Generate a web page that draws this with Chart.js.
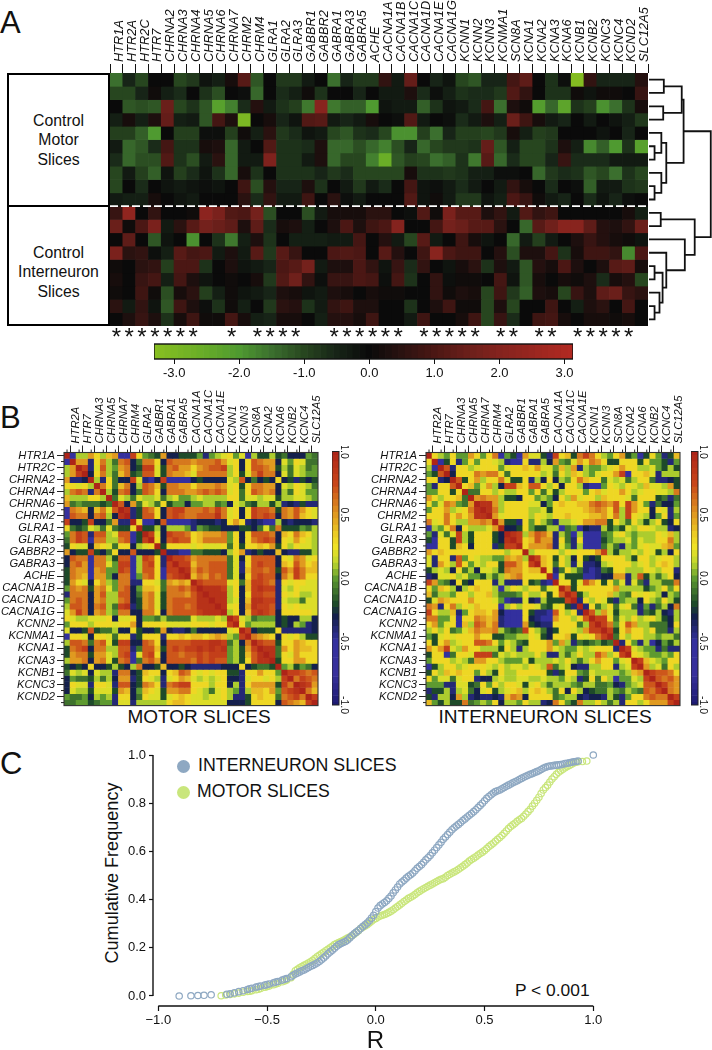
<!DOCTYPE html>
<html>
<head>
<meta charset="utf-8">
<title>Gene expression and correlation in motor and interneuron slices</title>
<script src="https://cdn.jsdelivr.net/npm/chart.js@4"></script>
<style>
  html, body { margin: 0; padding: 0; background: #fff; }
  body { position: relative; width: 712px; height: 1050px; overflow: hidden; font-family: "Liberation Sans", Arial, sans-serif; color: #111; }
  canvas { position: absolute; }
  .t { position: absolute; white-space: nowrap; line-height: 1; }
  .letter { font-size: 31px; left: 0; }
  .group { position: absolute; left: 7px; width: 103px; box-sizing: border-box; border: 2px solid #000; background: #fff; }
  .group span { position: absolute; left: 0; right: 0; text-align: center; font-size: 15.8px; line-height: 19.3px; }
  .dot { position: absolute; width: 13px; height: 13px; border-radius: 50%; left: 177px; }
</style>
</head>
<body>
<div class="t letter" style="top:7px">A</div>
<div class="t letter" style="top:402px">B</div>
<div class="t letter" style="top:748px">C</div>

<div class="group" style="top:73px;height:134px"><span style="top:36px">Control<br>Motor<br>Slices</span></div>
<div class="group" style="top:205px;height:121px"><span style="top:36px">Control<br>Interneuron<br>Slices</span></div>

<div class="t" style="left:199px;top:707px;font-size:19px;transform:translateX(-50%)">MOTOR SLICES</div>
<div class="t" style="left:545px;top:707px;font-size:19.1px;transform:translateX(-50%)">INTERNEURON SLICES</div>

<div class="dot" style="top:760px;background:#8ea8c2"></div>
<div class="t" style="left:198px;top:757px;font-size:17.8px">INTERNEURON SLICES</div>
<div class="dot" style="top:786px;background:#c9e67c"></div>
<div class="t" style="left:197px;top:783px;font-size:17.6px">MOTOR SLICES</div>
<div class="t" style="left:515px;top:982px;font-size:17.4px">P &lt; 0.001</div>
<div class="t" style="left:112px;top:873px;font-size:18.1px;transform:translate(-50%,-50%) rotate(-90deg)">Cumulative Frequency</div>

<script>
// ---- gene names ----
const genes = ["HTR1A","HTR2A","HTR2C","HTR7","CHRNA2","CHRNA3","CHRNA4","CHRNA5","CHRNA6","CHRNA7","CHRM2","CHRM4","GLRA1","GLRA2","GLRA3","GABBR1","GABBR2","GABRA1","GABRA3","GABRA5","ACHE","CACNA1A","CACNA1B","CACNA1C","CACNA1D","CACNA1E","CACNA1G","KCNN1","KCNN2","KCNN3","KCNMA1","SCN8A","KCNA1","KCNA2","KCNA3","KCNA6","KCNB1","KCNB2","KCNC3","KCNC4","KCND2","SLC12A5"];

// columns with a significance star under panel A
const starCols = [0,1,2,3,4,5,6,9,11,12,13,14,17,18,19,20,21,22,24,25,26,27,28,30,31,33,34,36,37,38,39,40];

// ---- panel A, expression z-score x10, one row per slice ----
const heatRows = [
[-15,-5,-10,0,0,-10,-8,-2,-4,2,12,-12,0,-8,-8,-3,0,-15,-5,-8,-8,6,-3,14,0,-5,-2,-10,-12,-5,-5,9,13,0,-7,-1,-32,6,-5,-5,-5,4],
[-10,-10,-5,1,-4,-6,0,-7,-11,0,-1,-14,0,-6,-4,1,-7,0,0,-5,0,-3,-3,3,-6,-1,-4,-7,-6,-6,-8,11,6,0,-7,-7,1,-2,1,1,0,7],
[0,-12,-11,-12,15,-10,-7,-12,-22,-17,-6,4,-3,-7,-9,-16,21,-16,-13,-13,-20,-2,-3,-3,-13,-7,-2,-3,-6,9,-15,3,1,-21,-14,-23,-7,-9,-19,-15,-7,2],
[-4,2,-4,3,14,-4,-3,-12,9,3,-30,0,2,-5,-2,11,12,-3,-5,-3,2,0,-1,11,-3,0,-1,-6,-3,3,-4,15,8,2,-3,-5,0,-3,0,-2,-4,-8],
[-9,-9,-13,-20,0,-9,-9,-1,-1,-9,1,-4,5,-8,-6,-2,-3,-10,-12,-7,-6,-10,-19,-19,-9,-15,-5,-9,-9,-10,-8,2,-4,-9,-8,0,0,0,-2,0,-5,0],
[-3,-14,-12,-6,9,-7,-7,2,3,-14,-3,0,11,-7,-7,-6,3,-14,-14,-11,-14,-17,-11,-5,-14,-10,-8,-8,-7,14,-12,-4,-10,-10,-7,3,-4,-18,-13,-20,-7,-22],
[-6,-14,-11,-11,11,-7,-11,-3,5,-14,-3,-3,19,-7,-7,-3,3,-14,-10,-10,-17,-26,-12,-9,-10,-15,-13,-7,-16,12,-14,-6,-10,-10,-5,7,-6,-6,-6,-3,-3,-3],
[-10,-3,-9,-13,-2,-9,-6,-2,-7,-14,2,-7,0,-7,-7,-7,-5,-8,-6,-10,-10,-10,-10,2,-7,-7,-8,-7,-4,-4,-1,-1,0,-14,-8,-6,-7,-12,-10,-15,-7,-10],
[-10,0,-6,0,-2,-3,-2,-1,-2,0,8,-11,4,-5,-5,3,-7,0,-3,-8,-3,-6,0,9,-2,-1,-3,-6,-3,0,-3,6,2,0,-6,0,-1,-13,-3,-3,-7,-8],
[-3,-4,-4,2,0,-2,-3,0,0,0,5,-6,6,-3,-3,8,0,5,-1,-3,0,0,0,11,-2,1,-3,-8,-8,-2,-4,10,7,1,-3,-5,0,-6,-2,-5,-1,0],
[7,23,0,6,0,0,1,22,18,11,10,17,-11,0,0,-11,-3,2,2,2,5,5,0,-1,11,1,18,12,12,3,6,-3,11,6,8,0,0,0,0,0,2,-4],
[15,1,10,18,-3,5,12,17,15,13,3,13,-6,2,3,-4,0,3,10,3,8,10,20,0,0,9,17,15,12,12,5,0,-14,12,16,21,21,13,4,3,6,15],
[0,13,0,-12,-2,0,-19,0,-7,-16,-4,3,-7,0,-4,-4,-4,-3,-3,9,0,4,-3,-10,12,-3,0,8,2,-2,0,-14,-3,-9,-3,0,3,7,4,2,1,-2],
[18,5,6,-1,-4,12,9,10,-3,3,-3,12,-8,12,7,0,0,10,11,10,0,12,4,0,8,21,10,8,8,0,4,-11,3,3,9,-7,2,8,8,6,-18,10],
[1,0,5,6,-9,10,10,-7,0,3,-2,-3,-5,10,12,17,-3,3,3,10,6,-2,7,-6,6,0,-2,2,5,-7,3,-3,-12,4,2,10,3,0,3,12,13,2],
[2,0,7,9,-4,9,3,-2,0,1,0,2,-8,11,16,6,-1,7,7,10,9,-1,9,-7,0,6,-1,1,1,0,9,-2,-12,2,0,2,1,3,-6,2,4,-10],
[1,0,8,1,-11,2,5,-9,-4,1,-2,-3,-5,3,2,-2,-3,3,2,0,2,1,1,0,0,6,1,3,2,-10,8,-8,-13,3,2,-10,7,3,13,15,7,5],
[5,-3,6,-2,-12,8,3,-1,-7,1,-4,0,-8,5,4,-7,-3,6,8,3,3,0,0,-7,0,3,8,1,1,-10,3,-10,0,0,8,0,-4,3,5,0,9,0],
[0,3,7,3,-7,2,8,1,1,9,2,-4,-5,2,2,0,-4,4,4,2,8,0,0,-3,8,0,0,2,8,-10,7,-6,0,8,9,2,0,2,2,1,2,0]
];

// dendrogram of the 19 slices, hclust style: negative = row number, positive = earlier merge, then height
const dendroMerges = [
[-1,-2,0.24],[-3,-4,0.23],[1,2,0.53],[-6,-7,0.09],[-5,4,0.2],[-9,-10,0.09],[-8,6,0.2],[5,7,0.28],[3,8,0.56],
[-11,-12,0.19],[-15,-16,0.09],[-18,-19,0.09],[-17,12,0.17],[11,13,0.22],[-14,14,0.28],[-13,15,0.58],[10,16,0.74],[9,17,1]
];

// ---- panel B, correlation x10, upper triangle from the diagonal rightwards ----
const motorRows = [
[10,-6,1,1,5,3,1,4,5,-6,-6,8,3,0,-1,-2,5,-3,-3,-2,-2,-2,0,-4,0,1,2,3,0,2,-5,1,-2,-2,1,-2,-1,-3,-3,-3,0,-1],
[10,5,5,-4,3,6,1,-1,6,7,-3,-1,6,6,3,-3,7,6,6,6,5,6,6,6,7,5,2,3,-3,3,7,6,5,5,-3,2,0,3,2,-1,-1],
[10,8,-4,2,7,1,0,5,6,-3,-2,8,8,2,-2,6,7,5,5,3,5,6,7,7,8,1,3,-3,3,7,7,6,5,-2,1,-1,2,1,-1,0],
[10,-3,3,6,1,-1,4,6,-2,-1,7,7,2,-2,6,5,5,4,2,6,6,6,6,6,1,3,-2,2,6,8,6,6,-3,2,-1,2,1,0,0],
[10,1,-4,3,-1,-3,-3,8,2,-4,-5,-3,8,-5,-5,-5,-5,-3,-2,-3,-3,-3,-3,2,1,7,-3,-1,-3,-2,-3,3,-3,-2,-4,-2,-3,-2],
[10,6,3,-1,4,6,-3,1,7,6,4,-2,6,6,5,5,3,5,5,5,6,5,2,3,-2,3,6,6,5,5,-3,2,1,3,2,1,-1],
[10,1,-2,6,7,-3,-1,7,6,3,-3,6,6,6,5,5,6,7,6,7,6,2,3,-1,3,7,6,5,6,-3,1,-1,3,2,0,0],
[10,-1,2,1,-1,2,1,1,2,-1,1,2,0,0,1,2,1,1,1,1,3,3,-1,2,2,1,2,2,-2,1,1,2,2,1,0],
[10,7,-3,5,-1,2,1,-1,3,-2,0,0,-3,0,0,1,1,-1,0,-3,2,1,-1,-2,1,1,-2,1,-4,-3,-4,-2,-4,-4],
[10,9,-4,-2,7,6,3,-3,7,8,8,6,6,6,7,6,8,6,2,3,-3,3,8,7,7,6,-2,6,5,7,5,3,2],
[10,-4,-2,7,7,3,-3,7,8,7,6,6,7,7,7,9,6,2,3,-3,3,8,7,8,7,-3,6,5,7,4,3,2],
[10,3,-5,-5,-3,7,-5,-5,-5,-5,-4,-3,-3,-3,-4,-3,3,5,3,-4,-3,-4,-5,-5,1,-3,-4,-3,-3,-3,-4],
[10,-2,-2,1,-3,1,1,1,0,-4,0,-1,-2,-2,-3,-3,-3,-2,-2,-3,-1,2,-1,6,-2,-2,-2,0,-1,1],
[10,8,2,-3,8,7,7,6,3,4,5,5,5,6,0,3,-3,3,7,7,7,6,-3,4,3,6,4,3,1],
[10,3,-3,7,8,7,7,3,4,6,6,6,6,0,3,-3,3,6,7,8,7,-3,3,2,5,3,2,1],
[10,-2,3,3,3,3,2,3,2,2,2,3,-1,3,-2,3,3,4,3,5,-2,3,1,3,2,2,1],
[10,-4,-4,-5,-5,-1,-1,-2,-2,-2,-3,1,3,5,-4,-3,-2,-3,-3,4,-3,-4,-4,-2,-2,1],
[10,8,8,7,5,6,6,6,6,6,-1,2,-3,3,7,7,7,7,-3,3,2,6,5,2,3],
[10,8,8,4,6,6,7,7,7,-1,2,-4,3,7,8,7,7,-3,4,3,7,5,3,4],
[10,9,5,7,6,7,7,7,-1,2,-4,4,7,7,6,7,-2,7,5,8,6,4,4],
[10,4,6,5,7,6,7,-1,2,-3,3,7,8,7,7,-3,6,4,8,6,3,3],
[10,8,7,7,7,7,2,3,-1,4,8,8,7,6,-4,3,2,3,3,2,2],
[10,9,9,9,8,1,3,-3,4,8,9,8,8,-4,2,1,3,2,2,2],
[10,9,9,9,1,3,-3,3,8,8,7,7,-4,3,2,3,1,1,2],
[10,9,9,1,2,-3,4,9,9,8,8,-4,2,1,1,-1,2,2],
[10,9,2,3,-3,5,9,8,8,7,-4,3,2,3,2,2,2],
[10,1,3,-3,4,8,9,8,7,-3,3,3,3,3,3,2],
[10,8,2,1,-1,0,0,0,-3,-2,-3,-3,1,1,-3],
[10,3,0,1,1,1,1,-3,-2,-3,1,0,-4,-3],
[10,8,-3,-2,-2,-2,3,-4,-4,-4,-4,-4,-3],
[10,6,5,4,3,-3,3,2,3,1,-2,-2],
[10,8,7,7,-2,3,3,5,4,3,3],
[10,9,9,-1,5,3,5,4,4,3],
[10,9,-1,3,2,5,3,3,3],
[10,-2,3,3,5,5,3,3],
[10,0,1,-2,0,-1,-3],
[10,8,8,7,6,7],
[10,6,8,7,6],
[10,9,8,5],
[10,6,4],
[10,8],
[10]
];
const interRows = [
[10,3,1,0,3,0,0,5,3,0,3,6,-5,0,-2,-5,5,2,2,-2,-4,8,3,4,-2,6,8,6,3,1,0,3,5,-2,0,-5,-2,3,0,-4,-2,4],
[10,-5,-2,3,-4,0,3,0,3,3,2,1,-4,-5,-5,3,-4,-4,1,-3,5,0,-1,2,5,3,6,5,3,-2,-2,3,3,3,-2,3,0,0,-2,-4,0],
[10,7,-4,3,3,1,2,3,3,3,0,2,3,3,4,3,5,2,2,0,4,1,5,-4,1,0,0,1,2,3,5,3,3,1,1,2,0,-2,1,-2],
[10,-3,3,3,3,6,5,6,6,3,-1,3,3,3,3,3,1,2,-1,3,1,4,3,1,0,2,3,3,5,8,-5,3,3,4,2,-4,1,1,1],
[10,7,-2,3,5,1,3,3,6,2,-2,-2,3,-4,1,-3,3,-3,1,0,3,6,4,3,3,-1,2,1,2,-1,1,3,3,-1,-4,-4,-3,-2],
[10,3,4,0,2,5,1,-3,8,8,4,3,7,7,3,1,3,-3,3,3,1,-4,-5,-5,0,3,2,1,3,2,1,4,2,2,1,5,-2],
[10,-1,-1,3,3,1,3,1,1,3,3,0,3,-1,2,-2,1,3,3,3,0,3,4,2,3,3,5,3,1,2,3,3,2,2,1,6],
[10,5,6,5,5,1,-2,-2,-3,3,3,0,1,0,-3,3,1,5,2,3,3,1,4,3,3,3,2,-1,3,3,3,-2,-1,-4,-1],
[10,9,9,5,1,3,3,3,3,2,2,-3,0,3,4,3,3,4,4,6,7,6,5,7,3,8,5,3,0,-4,-1,-3,-3,0],
[10,9,6,1,3,3,3,3,1,1,2,-2,3,3,3,3,3,4,5,6,5,3,7,1,8,5,3,3,-3,3,2,-4,1],
[10,5,2,3,3,3,3,1,3,2,1,3,3,4,3,3,3,4,4,5,3,6,1,8,3,2,1,-3,0,3,-4,0],
[10,5,-2,-2,-4,3,0,3,1,-1,-4,1,1,2,3,5,5,6,6,-2,3,1,-1,3,1,-2,1,3,-2,-3,3],
[10,-3,-3,-2,3,0,-2,-2,1,1,-5,-1,0,-5,-3,-4,-4,1,-2,0,-2,2,1,3,3,2,1,1,-4,-3],
[10,9,8,1,5,7,6,4,-4,1,-1,-5,1,-5,-5,-5,-1,0,2,3,1,0,1,1,1,3,2,4,1],
[10,8,3,4,7,5,5,-4,3,-1,-4,3,-5,-5,-5,-2,0,1,1,2,0,2,1,1,3,3,6,1],
[10,3,5,5,5,6,-4,2,0,-4,1,-5,-5,-5,-1,1,-1,-4,1,0,2,3,2,2,4,5,0],
[10,1,3,3,3,3,1,3,2,3,3,3,5,8,1,-2,1,1,2,1,3,2,-2,1,-3,3],
[10,8,4,3,-2,3,1,-3,3,-2,-3,-2,3,3,3,3,1,-2,3,3,1,2,3,3,1],
[10,4,3,-1,3,1,-4,2,-4,-4,-3,1,2,3,3,3,1,2,3,1,3,4,3,1],
[10,3,-4,-1,3,1,-1,-4,-5,-4,-1,-2,3,3,1,1,1,3,2,1,3,3,-4],
[10,-5,2,-2,-2,-2,-5,-5,-4,-3,-3,5,5,-4,1,7,-2,1,-1,1,3,-3],
[10,3,3,-2,2,7,5,3,-2,3,0,2,-4,2,-1,-4,1,1,-1,-1,6],
[10,7,-2,3,3,3,3,3,3,5,1,1,1,1,-2,0,1,3,0,3],
[10,8,-2,1,3,3,3,4,1,0,-1,3,2,3,2,1,-3,1,0],
[10,-4,3,1,3,2,-2,-4,0,1,1,-3,3,1,0,3,1,-2],
[10,-4,3,-1,1,3,-1,2,3,-1,-4,0,-4,-1,1,-3,6],
[10,7,1,5,2,-2,1,1,1,-4,-1,-2,1,-3,-4,1],
[10,8,8,3,-1,2,1,3,1,2,3,1,-2,-3,1],
[10,8,6,0,3,7,5,1,1,-1,-1,-1,-3,3],
[10,8,-2,3,5,3,3,1,3,-1,-1,-4,1],
[10,-1,3,1,3,3,1,1,0,1,1,-1],
[10,-4,3,0,-4,1,-5,-3,0,-2,1],
[10,8,2,1,0,0,-4,-1,-4,-4],
[10,3,2,1,0,0,1,0,3],
[10,8,4,2,1,0,3,3],
[10,5,1,2,-1,3,1],
[10,8,7,7,6,3],
[10,7,6,7,5],
[10,8,6,5],
[10,6,5],
[10,8],
[10]
];

// ---- panel C, cumulative frequency of R ----
const interX = [-0.904,-0.85,-0.818,-0.79,-0.757,-0.685,-0.67,-0.65,-0.63,-0.61,-0.59,-0.57,-0.55,-0.53,-0.51,-0.49,-0.47,-0.45,-0.43,-0.41,-0.39,-0.37,-0.35,-0.33,-0.31,-0.29,-0.27,-0.25,-0.23,-0.21,-0.19,-0.17,-0.15,-0.13,-0.11,-0.09,-0.07,-0.05,-0.03,-0.01,0.01,0.03,0.05,0.07,0.09,0.11,0.13,0.15,0.17,0.19,0.21,0.23,0.25,0.27,0.29,0.31,0.33,0.35,0.37,0.39,0.41,0.43,0.45,0.47,0.49,0.51,0.53,0.55,0.57,0.59,0.61,0.63,0.65,0.67,0.69,0.71,0.73,0.75,0.77,0.79,0.81,0.83,0.85,0.87,0.89,0.91,0.93,1.0];
const interY = [0,0.001,0.002,0.003,0.005,0.007,0.009,0.013,0.018,0.022,0.027,0.032,0.037,0.041,0.045,0.05,0.055,0.06,0.066,0.072,0.08,0.091,0.1,0.108,0.118,0.127,0.137,0.15,0.166,0.183,0.198,0.213,0.222,0.232,0.25,0.265,0.28,0.295,0.312,0.335,0.365,0.382,0.395,0.415,0.44,0.465,0.48,0.497,0.51,0.53,0.545,0.565,0.583,0.605,0.627,0.65,0.67,0.69,0.705,0.72,0.735,0.75,0.765,0.782,0.8,0.82,0.835,0.848,0.855,0.865,0.875,0.885,0.893,0.903,0.912,0.92,0.927,0.935,0.945,0.952,0.955,0.958,0.96,0.965,0.968,0.972,0.975,1.0];
const interX2 = [-0.58,-0.54,-0.5,-0.46,-0.42,-0.38,-0.36,-0.34,-0.32,-0.3,-0.28,-0.26,-0.24,-0.22,-0.2,-0.18,-0.16,-0.14,-0.12,-0.1,-0.08,-0.06,-0.04,-0.02,0,0.02,0.04,0.06,0.08,0.1,0.12,0.14,0.16,0.18,0.2,0.22,0.24,0.26,0.28,0.3,0.32,0.34,0.36,0.38,0.4,0.42,0.44,0.46,0.48,0.5,0.52,0.54,0.56,0.58,0.6,0.62,0.64,0.66,0.68,0.7,0.72,0.74,0.76,0.78,0.8,0.82,0.84,0.86,0.88,0.9,0.92];
const interY2 = [0.03,0.039,0.048,0.058,0.069,0.086,0.095,0.105,0.113,0.123,0.132,0.143,0.158,0.175,0.19,0.206,0.218,0.226,0.241,0.258,0.272,0.288,0.303,0.323,0.35,0.375,0.388,0.405,0.428,0.452,0.473,0.489,0.503,0.52,0.537,0.555,0.574,0.594,0.616,0.638,0.66,0.68,0.698,0.712,0.728,0.743,0.757,0.773,0.791,0.81,0.828,0.842,0.852,0.86,0.87,0.88,0.889,0.898,0.908,0.916,0.923,0.931,0.94,0.949,0.954,0.957,0.959,0.962,0.966,0.97,0.973];
const motorX = [-0.711,-0.69,-0.67,-0.65,-0.63,-0.61,-0.59,-0.57,-0.55,-0.53,-0.51,-0.49,-0.47,-0.45,-0.43,-0.41,-0.39,-0.37,-0.35,-0.33,-0.31,-0.29,-0.27,-0.25,-0.23,-0.21,-0.19,-0.17,-0.15,-0.13,-0.11,-0.09,-0.07,-0.05,-0.03,-0.01,0.01,0.03,0.05,0.07,0.09,0.11,0.13,0.15,0.17,0.19,0.21,0.23,0.25,0.27,0.29,0.31,0.33,0.35,0.37,0.39,0.41,0.43,0.45,0.47,0.49,0.51,0.53,0.55,0.57,0.59,0.61,0.63,0.65,0.67,0.69,0.71,0.73,0.75,0.77,0.79,0.81,0.83,0.85,0.87,0.89,0.91,0.93,0.95,0.97];
const motorY = [0.001,0.004,0.006,0.009,0.012,0.016,0.019,0.022,0.026,0.031,0.036,0.042,0.047,0.053,0.059,0.066,0.076,0.105,0.117,0.127,0.137,0.148,0.163,0.175,0.188,0.2,0.213,0.222,0.23,0.24,0.25,0.263,0.28,0.29,0.303,0.317,0.328,0.335,0.342,0.352,0.365,0.378,0.392,0.405,0.415,0.428,0.44,0.45,0.46,0.47,0.48,0.487,0.5,0.51,0.52,0.532,0.545,0.56,0.572,0.585,0.597,0.612,0.627,0.642,0.658,0.675,0.695,0.71,0.725,0.737,0.755,0.775,0.8,0.825,0.855,0.875,0.9,0.92,0.935,0.947,0.957,0.967,0.972,0.973,0.975];
const motorX2 = [-0.58,-0.54,-0.5,-0.46,-0.42,-0.38,-0.36,-0.34,-0.32,-0.3,-0.28,-0.26,-0.24,-0.22,-0.2,-0.18,-0.16,-0.14,-0.12,-0.1,-0.08,-0.06,-0.04,-0.02,0,0.02,0.04,0.06,0.08,0.1,0.12,0.14,0.16,0.18,0.2,0.22,0.24,0.26,0.28,0.3,0.32,0.34,0.36,0.38,0.4,0.42,0.44,0.46,0.48,0.5,0.52,0.54,0.56,0.58,0.6,0.62,0.64,0.66,0.68,0.7,0.72,0.74,0.76,0.78,0.8,0.82,0.84,0.86,0.88,0.9,0.92];
const motorY2 = [0.02,0.028,0.039,0.05,0.062,0.09,0.111,0.122,0.132,0.142,0.155,0.169,0.181,0.194,0.206,0.218,0.226,0.235,0.245,0.256,0.271,0.285,0.296,0.31,0.322,0.332,0.338,0.347,0.358,0.371,0.385,0.398,0.41,0.421,0.434,0.445,0.455,0.465,0.475,0.484,0.493,0.505,0.515,0.526,0.538,0.552,0.566,0.578,0.591,0.604,0.62,0.634,0.65,0.666,0.685,0.703,0.717,0.731,0.746,0.765,0.788,0.812,0.84,0.865,0.888,0.91,0.928,0.941,0.952,0.962,0.97];

const heatTicks = [-3,-2,-1,0,1,2,3];
const corrTicks = [1,0.5,0,-0.5,-1];
const cumXTicks = [-1,-0.5,0,0.5,1];
const cumYTicks = [0,0.2,0.4,0.6,0.8,1];

// ---- colour scales ----
const heatStops = [[-3.3,"#88bf20"],[-2.5,"#66ab28"],[-2,"#4f9a30"],[-1.5,"#3b6f2e"],[-1,"#27461f"],[-0.5,"#172417"],[0,"#0a0a0a"],[0.5,"#2a1210"],[1,"#4b1714"],[1.5,"#6a1f1a"],[2,"#84231e"],[3.2,"#b52a22"]];
const corrStops = [[-1,"#1c1a70"],[-0.75,"#38309c"],[-0.5,"#33309e"],[-0.3,"#14204c"],[-0.2,"#1e4a2a"],[0,"#5e9a30"],[0.12,"#bcd62e"],[0.25,"#f0e224"],[0.35,"#eccb24"],[0.5,"#e09a20"],[0.75,"#c8461a"],[1,"#ad2418"]];

function hexRgb(h) { return [1,3,5].map(i => parseInt(h.slice(i,i+2),16)); }
function rampColor(stops, v) {
  if (v <= stops[0][0]) return stops[0][1];
  for (let i = 1; i < stops.length; i++) {
    if (v <= stops[i][0]) {
      const a = hexRgb(stops[i-1][1]), b = hexRgb(stops[i][1]);
      const t = (v - stops[i-1][0]) / (stops[i][0] - stops[i-1][0]);
      return `rgb(${a.map((c,k) => Math.round(c + (b[k]-c)*t)).join(",")})`;
    }
  }
  return stops[stops.length-1][1];
}

function mirror(tri) {
  return tri.map((_, i) => tri.map((_, j) => j >= i ? tri[i][j-i] : tri[j][i-j]));
}

// one stacked series per row, all bars one unit tall, colour carries the value
function cellDatasets(rows, colorOf) {
  return rows.map(row => ({
    data: row.map(() => 1),
    backgroundColor: row.map(colorOf),
    barPercentage: 1, categoryPercentage: 1, borderWidth: 0
  }));
}

// ---- page helpers ----
Chart.defaults.animation = false;
Chart.defaults.font.family = '"Liberation Sans", Arial, sans-serif';
Chart.defaults.color = "#111";
Chart.defaults.plugins.legend.display = false;
Chart.defaults.plugins.tooltip.enabled = false;

function addChart(x, y, w, h, config) {
  const c = document.createElement("canvas");
  c.width = w; c.height = h;
  c.style.left = x + "px"; c.style.top = y + "px";
  c.style.width = w + "px"; c.style.height = h + "px";
  document.body.appendChild(c);
  config.options.responsive = false;
  config.options.maintainAspectRatio = false;
  return new Chart(c, config);
}
function fixHeight(v) { return s => { s.height = v; s.paddingLeft = 0; s.paddingRight = 0; }; }
function fixWidth(v) { return s => { s.width = v; s.paddingTop = 0; s.paddingBottom = 0; }; }
function frame(color, width) {
  return { id: "frame", afterDraw(chart) {
    const a = chart.chartArea, g = chart.ctx;
    g.save(); g.strokeStyle = color; g.lineWidth = width;
    g.strokeRect(a.left, a.top, a.right - a.left, a.bottom - a.top);
    g.restore();
  } };
}

// ---- panel A heat map ----
addChart(100, 0, 558, 345, {
  type: "bar",
  data: { labels: genes, datasets: cellDatasets(heatRows, v => rampColor(heatStops, v / 10)) },
  options: {
    layout: { padding: { left: 10, right: 10 } },
    scales: {
      x: { position: "top", stacked: true, afterFit: fixHeight(73),
        grid: { drawOnChartArea: false, tickLength: 9, tickColor: "#111", tickWidth: 1 }, border: { display: false },
        ticks: { autoSkip: false, minRotation: 90, maxRotation: 90, padding: 2, labelOffset: 18.4, font: { size: 12.8, style: "italic" } } },
      stars: { type: "category", position: "bottom", afterFit: fixHeight(19), offset: true,
        grid: { display: false }, border: { display: false },
        ticks: { autoSkip: false, maxRotation: 0, padding: -10, font: { size: 24 },
          callback: (v, i) => starCols.includes(i) ? "*" : "" } },
      y: { display: false, stacked: true, reverse: true, min: 0, max: heatRows.length }
    }
  },
  plugins: [{ id: "split", afterDatasetsDraw(chart) {
    const g = chart.ctx, a = chart.chartArea, yp = chart.scales.y.getPixelForValue(10);
    g.save(); g.strokeStyle = "#fff"; g.lineWidth = 1.8; g.setLineDash([8, 3]);
    g.beginPath(); g.moveTo(a.left, yp); g.lineTo(a.right, yp); g.stroke(); g.restore();
  } }]
});

// dendrogram beside panel A
function buildDendro() {
  const nodes = [];
  const at = ref => ref < 0 ? { x: 0, y: -ref - 0.5 } : nodes[ref - 1];
  return dendroMerges.map(([a, b, h]) => {
    const p = at(a), q = at(b);
    nodes.push({ x: h, y: (p.y + q.y) / 2 });
    return { data: [{ x: p.x, y: p.y }, { x: h, y: p.y }, { x: h, y: q.y }, { x: q.x, y: q.y }],
      showLine: true, borderColor: "#111", borderWidth: 1.8, pointRadius: 0, tension: 0, clip: false };
  });
}
addChart(649, 73, 63, 253, {
  type: "scatter",
  data: { datasets: buildDendro() },
  options: { layout: { padding: 0 }, scales: {
    x: { type: "linear", display: false, min: 0, max: 1.02 },
    y: { type: "linear", display: false, min: 0, max: heatRows.length, reverse: true }
  } }
});

// panel A colour bar
const heatBarSteps = [];
for (let v = -3.3; v < 3.15; v += 0.1) heatBarSteps.push(+v.toFixed(1));
addChart(154, 343, 419, 37, {
  type: "bar",
  data: { datasets: [{ data: heatBarSteps.map(v => ({ x: v, y: 1 })), backgroundColor: heatBarSteps.map(v => rampColor(heatStops, v)),
    barPercentage: 1, categoryPercentage: 1, borderWidth: 0 }] },
  options: { layout: { padding: { top: 1 } }, scales: {
    x: { type: "linear", offset: false, min: -3.31, max: 3.13, afterFit: fixHeight(21), afterBuildTicks: s => { s.ticks = heatTicks.map(value => ({ value })); },
      grid: { offset: false, drawOnChartArea: false, tickLength: 5, tickColor: "#111" }, border: { display: false },
      ticks: { padding: 2, maxRotation: 0, autoSkip: false, font: { size: 13 }, callback: v => v.toFixed(1) } },
    y: { display: false, min: 0, max: 1 }
  } },
  plugins: [frame("#111", 1.4)]
});

// ---- panel B correlation matrices ----
function corrChart(left, axisWidth, rows) {
  const m = mirror(rows);
  addChart(left, 372, axisWidth + 262, 336, {
    type: "bar",
    data: { labels: genes, datasets: cellDatasets(m, v => rampColor(corrStops, v / 10)) },
    options: {
      layout: { padding: { bottom: 2.4, right: 8 } },
      scales: {
        x: { position: "top", stacked: true, afterFit: fixHeight(80.5),
          grid: { drawOnChartArea: false, tickLength: 7, tickColor: c => c.index % 2 ? "#222" : "transparent" }, border: { display: false },
          ticks: { autoSkip: false, minRotation: 90, maxRotation: 90, padding: 2, labelOffset: 15.8, font: { size: 11.2, style: "italic" },
            callback: (v, i) => i % 2 ? genes[i] : "" } },
        y: { stacked: true, reverse: true, min: 0, max: genes.length, afterFit: fixWidth(axisWidth),
          afterBuildTicks: s => { s.ticks = genes.map((g, i) => ({ value: i + 0.5 })); },
          grid: { drawOnChartArea: false, tickLength: 7, tickColor: c => c.index % 2 ? "transparent" : "#222" }, border: { display: false },
          ticks: { autoSkip: false, padding: 2, font: { size: 11.2, style: "italic" },
            callback: (v, i) => i % 2 ? "" : genes[i] } }
      }
    },
    plugins: [frame("#333", 1.1), { id: "minorTicks", afterDraw(chart) {
      const g = chart.ctx, a = chart.chartArea, sx = chart.scales.x, sy = chart.scales.y;
      g.save(); g.strokeStyle = "#222"; g.lineWidth = 1; g.beginPath();
      genes.forEach((name, i) => {
        if (i % 2 === 0) { const p = sx.getPixelForTick(i); g.moveTo(p, a.top); g.lineTo(p, a.top - 3); }
        else { const p = sy.getPixelForValue(i + 0.5); g.moveTo(a.left, p); g.lineTo(a.left - 3, p); }
      });
      g.stroke(); g.restore();
    } }]
  });
}
corrChart(0, 64, motorRows);
corrChart(355, 71, interRows);

// colour bars for panel B
const corrBarSteps = [];
for (let v = -1; v <= 1.001; v += 0.05) corrBarSteps.push(+v.toFixed(2));
function corrBar(left) {
  addChart(left, 446, 34, 268, {
    type: "bar",
    data: { datasets: [{ data: corrBarSteps.map(v => ({ x: 1, y: v })), backgroundColor: corrBarSteps.map(v => rampColor(corrStops, v)),
      barPercentage: 1, categoryPercentage: 1, borderWidth: 0 }] },
    options: { indexAxis: "y", layout: { padding: { top: 5.5, bottom: 9 } }, scales: {
      x: { type: "linear", display: false, min: 0, max: 1 },
      y: { type: "linear", offset: false, position: "right", min: -1, max: 1, afterFit: fixWidth(27),
        afterBuildTicks: s => { s.ticks = corrTicks.map(value => ({ value })); },
        grid: { display: false, offset: false }, border: { display: false },
        ticks: { autoSkip: false, minRotation: -90, maxRotation: -90, crossAlign: "center", padding: -12, font: { size: 10.5 }, callback: v => v.toFixed(1) } }
    } },
    plugins: [frame("#222", 1)]
  });
}
corrBar(332);
corrBar(691);

// ---- panel C cumulative frequency ----
const toPoints = (xs, ys) => xs.map((x, i) => ({ x, y: ys[i] }));
addChart(90, 740, 530, 310, {
  type: "scatter",
  data: { datasets: [
    { label: "INTERNEURON SLICES", data: toPoints(interX, interY).concat(toPoints(interX2, interY2)), borderColor: "#8ea8c2", backgroundColor: "transparent", pointRadius: 3.2, borderWidth: 1.2, clip: false },
    { label: "MOTOR SLICES", data: toPoints(motorX, motorY).concat(toPoints(motorX2, motorY2)), borderColor: "#c9e67c", backgroundColor: "transparent", pointRadius: 3.2, borderWidth: 1.2, clip: false }
  ] },
  options: {
    layout: { padding: { top: 10.2, right: 22.35 } },
    scales: {
      x: { type: "linear", min: -1.0244, max: 1.02, afterFit: fixHeight(44),
        afterBuildTicks: s => { s.ticks = cumXTicks.map(value => ({ value })); },
        grid: { drawOnChartArea: false, tickLength: 5, tickColor: "#111", tickWidth: 1.2 }, border: { display: false },
        ticks: { padding: 2, maxRotation: 0, font: { size: 13 }, callback: v => v.toFixed(1).replace("-", "\u2212") },
        title: { display: true, text: "R", font: { size: 24, lineHeight: 1 }, padding: { bottom: -3 } } },
      y: { type: "linear", min: -0.0415, max: 1.02, afterFit: fixWidth(63),
        afterBuildTicks: s => { s.ticks = cumYTicks.map(value => ({ value })); },
        grid: { drawOnChartArea: false, tickLength: 4, tickColor: "#111", tickWidth: 1.2 }, border: { display: false },
        ticks: { padding: 3, font: { size: 13 }, callback: v => v.toFixed(1) } }
    }
  },
  plugins: [{ id: "axisLines", afterDraw(chart) {
    const g = chart.ctx, sx = chart.scales.x, sy = chart.scales.y, a = chart.chartArea;
    g.save(); g.strokeStyle = "#111"; g.lineWidth = 1.4; g.beginPath();
    g.moveTo(a.left, sy.getPixelForValue(1)); g.lineTo(a.left, sy.getPixelForValue(0));
    g.moveTo(sx.getPixelForValue(-1), a.bottom); g.lineTo(sx.getPixelForValue(1), a.bottom);
    g.stroke(); g.restore();
  } }]
});
</script>
</body>
</html>
